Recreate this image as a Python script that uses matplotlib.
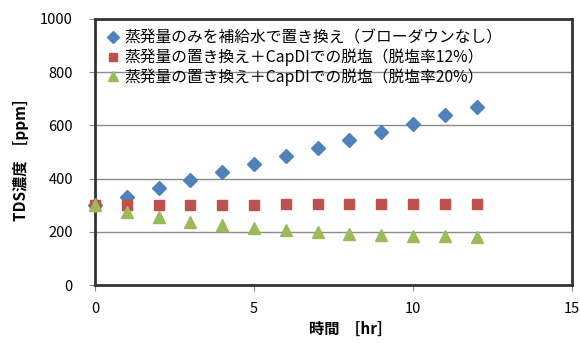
import matplotlib.pyplot as plt
import numpy as np

plt.rcParams['font.family'] = ['Noto Sans CJK JP', 'DejaVu Sans']

hours = np.arange(0, 13)
# TDS concentration [ppm]
tds_no_blowdown = [300, 331, 363, 394, 424, 454, 485, 515, 545, 575, 606, 637, 668]
tds_capdi_12 = [300, 301, 301, 302, 302, 302, 303, 303, 304, 304, 305, 305, 306]
tds_capdi_20 = [300, 276, 255, 238, 225, 214, 205, 198, 193, 189, 186, 183, 179]

labels = ['蒸発量のみを補給水で置き換え（ブローダウンなし）',
          '蒸発量の置き換え＋CapDIでの脱塩（脱塩率12%）',
          '蒸発量の置き換え＋CapDIでの脱塩（脱塩率20%）']

fig = plt.figure(figsize=(5.8, 3.43), dpi=100)
ax = fig.add_axes([0.164, 0.169, 0.822, 0.776])

ax.plot(hours, tds_no_blowdown, 'D', color='#4F81BD', ms=7.5, label=labels[0], clip_on=False, zorder=3)
ax.plot(hours, tds_capdi_12, 's', color='#C0504D', ms=7.5, label=labels[1], clip_on=False, zorder=3)
ax.plot(hours, tds_capdi_20, '^', color='#9BBB59', ms=8.5, label=labels[2], clip_on=False, zorder=4)

ax.set_xlim(0, 15)
ax.set_ylim(0, 1000)
ax.set_xticks([0, 5, 10, 15])
ax.set_yticks(range(0, 1001, 200))
ax.yaxis.grid(True, color='#8c8c8c', lw=1)
ax.set_axisbelow(True)
for s in ax.spines.values():
    s.set_color('#333333')
    s.set_linewidth(2)
ax.tick_params(direction='out', length=4, color='#888888', labelsize=10.5)
ax.tick_params(axis='y', pad=12)
ax.tick_params(axis='x', pad=8)

ax.set_xlabel('時間\u3000[hr]', fontsize=11, fontweight='bold')
ax.set_ylabel('TDS濃度\u3000[ppm]', fontsize=11, fontweight='bold')
ax.xaxis.set_label_coords(0.525, -0.135)
ax.yaxis.set_label_coords(-0.138, 0.47)

ax.legend(loc='upper left', bbox_to_anchor=(-0.005, 1.0), frameon=False, fontsize=11.3,
          handletextpad=0.1, handlelength=1.2, labelspacing=0.12, markerscale=0.8,
          borderaxespad=0.3)

fig.savefig('out.png', dpi=100)
